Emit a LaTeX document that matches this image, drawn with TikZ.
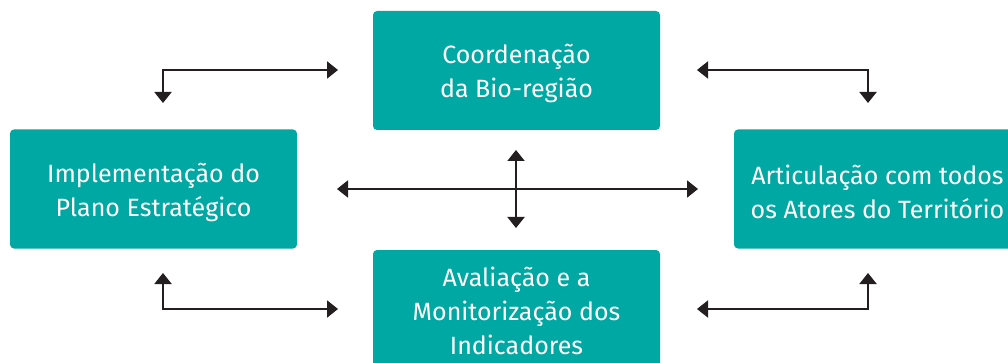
\documentclass[tikz,border=0pt]{standalone}
\usepackage{fontspec}
\setmainfont{Fira Sans}
\usetikzlibrary{arrows.meta}
\definecolor{tealbox}{RGB}{0,168,163}
\definecolor{arrowcol}{RGB}{35,31,32}
\begin{document}
\begin{tikzpicture}[x=1pt,y=1pt,
  box/.style={fill=tealbox, draw=none, rounded corners=4pt, minimum width=287pt, minimum height=119pt, inner sep=0pt},
  boxtext/.style={inner sep=0pt, align=center, text=white, font=\fontsize{25}{34}\selectfont},
  conn/.style={line width=2pt, color=arrowcol, {Triangle[length=11pt,width=17pt]}-{Triangle[length=11pt,width=17pt]}}
]
\useasboundingbox (0,0) rectangle (1008,-363);
\clip (0,0) rectangle (1008,-363);
\node[box] (top) at (516.5,-70.5) {};
\node[boxtext] (toptext) at ([yshift=-3pt]top.center) {Coordenação\\da Bio-região};
\node[box] (left) at (153.5,-189) {};
\node[boxtext] (lefttext) at ([yshift=-3pt]left.center) {Implementação do\\Plano Estratégico};
\node[box] (right) at (877.5,-189) {};
\node[boxtext] (righttext) at ([yshift=-3pt]right.center) {Articulação com todos\\os Atores do Território};
\node[box, minimum height=120pt] (bottom) at (516.5,-310) {};
\node[boxtext] (bottomtext) at ([yshift=-1pt]bottom.center) {Avaliação e a\\Monitorização dos\\Indicadores};
% top-left
\coordinate (tl1) at (163,-103);
\coordinate (tl2) at (338,-70);
\draw[conn] (tl1) |- (tl2);
% top-right
\coordinate (tr1) at (697,-70);
\coordinate (tr2) at (868,-103);
\draw[conn] (tr1) -| (tr2);
% bottom-left
\coordinate (bl1) at (163,-273);
\coordinate (bl2) at (338,-309);
\draw[conn] (bl1) |- (bl2);
% bottom-right
\coordinate (br1) at (697,-309);
\coordinate (br2) at (868,-273);
\draw[conn] (br1) -| (br2);
% center
\coordinate (ch1) at (337,-189);
\coordinate (ch2) at (698,-189);
\coordinate (cv1) at (516,-150);
\coordinate (cv2) at (516,-228);
\draw[conn] (ch1) -- (ch2);
\draw[conn] (cv1) -- (cv2);
\end{tikzpicture}
\end{document}
